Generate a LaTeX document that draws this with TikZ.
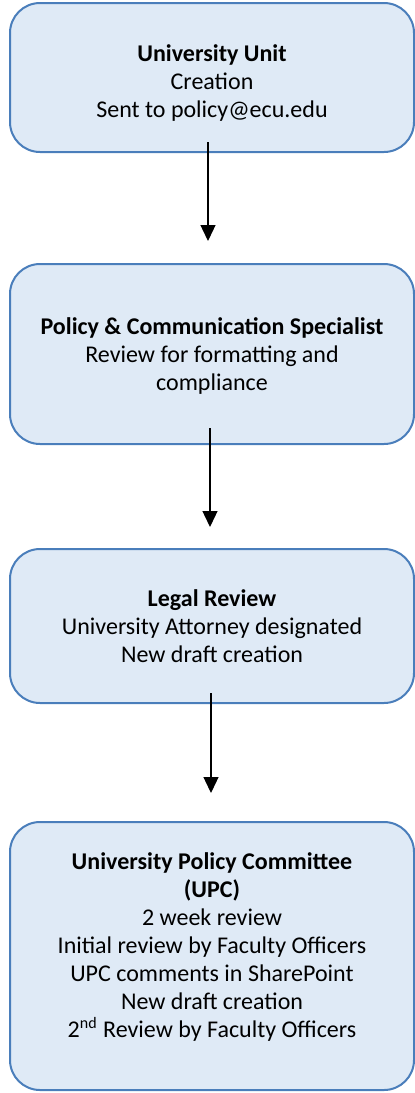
\documentclass[tikz,border=0pt]{standalone}
\usepackage{fontspec}
\setmainfont{Carlito}
\usepackage{tikz}
\usetikzlibrary{shapes,arrows.meta}
\usepackage{xcolor}
\definecolor{boxfill}{HTML}{DFEAF6}
\definecolor{boxline}{HTML}{4A7EBB}

\tikzset{
  stepbox/.style={draw=boxline, fill=boxfill, line width=1pt, rounded corners=15pt,
    minimum width=202pt, inner sep=0pt, align=center,
    font=\fontsize{12}{14}\selectfont},
  flow/.style={-{Triangle[width=7.5pt,length=8pt]}, line width=0.65pt}
}

\begin{document}
\begin{tikzpicture}[x=0.5pt,y=-0.5pt]
     \useasboundingbox (0,0) rectangle (415,1093);
     \node [stepbox, minimum height=74.5pt] (unit) at (212,77.5)
       {\rule{0pt}{13.5pt}\textbf{University Unit}\\Creation\\Sent to policy@ecu.edu};
     \node [stepbox, minimum height=90pt] (spec) at (212,354)
       {\rule{0pt}{10.5pt}\textbf{Policy \& Communication Specialist}\\Review for formatting and\\compliance};
     \node [stepbox, minimum height=77pt] (legal) at (212,626)
       {\textbf{Legal Review}\\University Attorney designated\\New draft creation};
     \node [stepbox, minimum height=134pt] (upc) at (212,956)
       {\textbf{University Policy Committee}\\\textbf{(UPC)}\\2 week review\\Initial review by Faculty Officers\\UPC comments in SharePoint\\New draft creation\\2\textsuperscript{nd} Review by Faculty Officers\\[-3pt]};
     \draw [flow] ([xshift=-2pt,yshift=5.5pt]unit.south) -- ([xshift=-2pt,yshift=11pt]spec.north);
     \draw [flow] ([xshift=-1pt,yshift=8.5pt]spec.south) -- ([xshift=-1pt,yshift=10.5pt]legal.north);
     \draw [flow] ([xshift=-0.5pt,yshift=5.5pt]legal.south) -- ([xshift=-0.5pt,yshift=14pt]upc.north);
\end{tikzpicture}
\end{document}
